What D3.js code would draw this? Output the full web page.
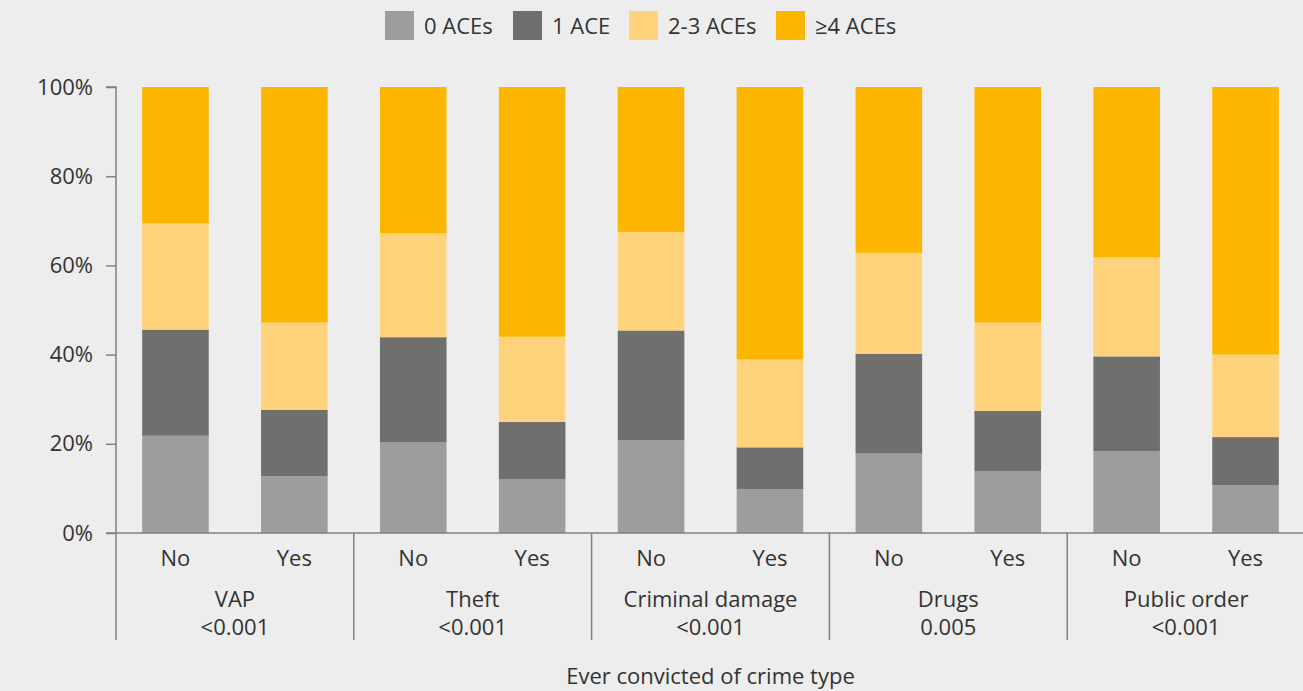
<!DOCTYPE html>
<html>
<head>
<meta charset="utf-8">
<script src="https://cdn.jsdelivr.net/npm/d3@7"></script>
<style>
    html, body { margin: 0; padding: 0; background: #ededed; }
    svg { display: block; }
    text { font-family: "Open Sans", "Noto Sans", sans-serif; fill: #333; }
</style>
</head>
<body>
<svg id="chart"></svg>
<script>
var crimeTypes = ["VAP", "Theft", "Criminal damage", "Drugs", "Public order"];
var pValues = ["<0.001", "<0.001", "<0.001", "0.005", "<0.001"];
var convicted = ["No", "Yes"];
var seriesNames = ["0 ACEs", "1 ACE", "2-3 ACEs", "\u22654 ACEs"];
var seriesColors = ["#9d9d9c", "#6f6f6e", "#fed37b", "#fcb600"];

// percent of each bar, one array per series, order: VAP No, VAP Yes, Theft No, ...
var aces0 = [21.8, 12.7, 20.3, 12.0, 20.8, 9.8, 17.8, 13.8, 18.3, 10.7];
var aces1 = [23.8, 14.9, 23.6, 12.9, 24.6, 9.4, 22.4, 13.6, 21.3, 10.8];
var aces23 = [23.8, 19.6, 23.3, 19.1, 22.1, 19.7, 22.6, 19.8, 22.2, 18.5];
var aces4 = [30.6, 52.8, 32.8, 56.0, 32.5, 61.1, 37.2, 52.8, 38.2, 60.0];

var yTicks = [0, 20, 40, 60, 80, 100];

var width = 1303, height = 691;
var margin = { top: 87, right: -2, bottom: 158, left: 116 };
var fontSize = "22px";

var svg = d3.select("#chart")
    .attr("width", width)
    .attr("height", height);

//  Data ---
var rows = [];
crimeTypes.forEach(function (c, ci) {
    convicted.forEach(function (v, vi) {
        var i = ci * 2 + vi;
        rows.push({ key: c + "|" + v, crime: c, conv: v, s0: aces0[i], s1: aces1[i], s2: aces23[i], s3: aces4[i] });
    });
});
var stack = d3.stack().keys(["s0", "s1", "s2", "s3"]);
var series = stack(rows);

//  Scales ---
var x = d3.scaleBand()
    .domain(rows.map(function (d) { return d.key; }))
    .range([margin.left, width - margin.right])
    .paddingInner(0.44)
    .paddingOuter(0.22);
var xGroup = d3.scaleBand()
    .domain(crimeTypes)
    .range([margin.left, width - margin.right]);
var y = d3.scaleLinear()
    .domain([0, 100])
    .range([height - margin.bottom, margin.top]);

//  Bars ---
svg.append("g")
    .selectAll("g")
    .data(series)
    .enter().append("g")
    .attr("fill", function (d, i) { return seriesColors[i]; })
    .selectAll("rect")
    .data(function (d) { return d; })
    .enter().append("rect")
    .attr("x", function (d) { return x(d.data.key); })
    .attr("width", x.bandwidth())
    .attr("y", function (d) { return y(d[1]); })
    .attr("height", function (d) { return y(d[0]) - y(d[1]); });

//  Y axis ---
var yAxis = svg.append("g")
    .attr("transform", "translate(" + margin.left + ",0)")
    .call(d3.axisLeft(y).tickValues(yTicks).tickSize(10).tickPadding(13)
        .tickFormat(function (d) { return d + "%"; }));
yAxis.selectAll("path, line").attr("stroke", "#808080").attr("stroke-width", 1.5);
yAxis.select(".domain").attr("d", "M-10," + y(100) + "H0V" + y(0));
yAxis.selectAll("text").style("font-size", fontSize).attr("fill", "#333");

//  X axis ---
var base = y(0);
svg.append("line")
    .attr("x1", margin.left - 10).attr("x2", width)
    .attr("y1", base).attr("y2", base)
    .attr("stroke", "#808080").attr("stroke-width", 1.5);

svg.append("g")
    .selectAll("line")
    .data(crimeTypes)
    .enter().append("line")
    .attr("x1", function (d) { return xGroup(d); })
    .attr("x2", function (d) { return xGroup(d); })
    .attr("y1", base)
    .attr("y2", base + 107)
    .attr("stroke", "#808080")
    .attr("stroke-width", 1.5);

svg.append("g")
    .selectAll("text")
    .data(rows)
    .enter().append("text")
    .attr("x", function (d) { return x(d.key) + x.bandwidth() / 2; })
    .attr("y", base + 33)
    .attr("text-anchor", "middle")
    .style("font-size", fontSize)
    .text(function (d) { return d.conv; });

var groupLabels = svg.append("g")
    .selectAll("text")
    .data(crimeTypes)
    .enter().append("text")
    .attr("text-anchor", "middle")
    .style("font-size", fontSize);
groupLabels.append("tspan")
    .attr("x", function (d) { return xGroup(d) + xGroup.bandwidth() / 2; })
    .attr("y", base + 74)
    .text(function (d) { return d; });
groupLabels.append("tspan")
    .attr("x", function (d) { return xGroup(d) + xGroup.bandwidth() / 2; })
    .attr("y", base + 102)
    .text(function (d, i) { return pValues[i]; });

svg.append("text")
    .attr("x", (margin.left + width - margin.right) / 2)
    .attr("y", 684)
    .attr("text-anchor", "middle")
    .style("font-size", fontSize)
    .text("Ever convicted of crime type");

//  Legend ---
var legendX = [385, 513, 629, 776];
var legend = svg.append("g")
    .selectAll("g")
    .data(seriesNames)
    .enter().append("g")
    .attr("transform", function (d, i) { return "translate(" + legendX[i] + ",11)"; });
legend.append("rect")
    .attr("width", 29)
    .attr("height", 29)
    .attr("fill", function (d, i) { return seriesColors[i]; });
legend.append("text")
    .attr("x", 39)
    .attr("y", 23)
    .style("font-size", fontSize)
    .text(function (d) { return d; });
</script>
</body>
</html>
